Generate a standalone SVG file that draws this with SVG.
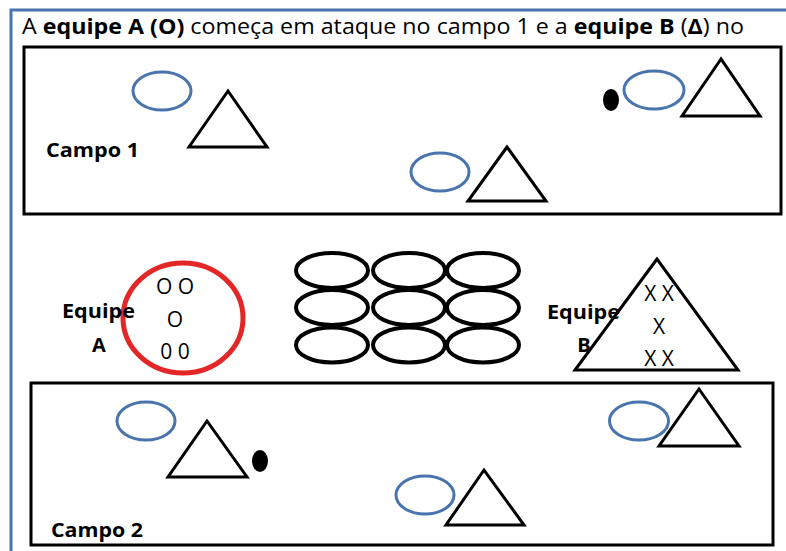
<svg xmlns="http://www.w3.org/2000/svg" width="786" height="551" viewBox="0 0 786 551">
<style>
.frame{fill:none;stroke:#4a74ad;stroke-width:3}
.field{fill:none;stroke:#000;stroke-width:3}
.pl{fill:none;stroke:#4a74ad;stroke-width:3}
.tri{fill:none;stroke:#000;stroke-width:3;stroke-linejoin:miter}
.ball{fill:#000}
.cone{fill:none;stroke:#000;stroke-width:4}
.t{font-family:"Open Sans","Liberation Sans",sans-serif;fill:#000}
.b{font-weight:bold}
</style>
<rect width="786" height="551" fill="#fff"/>
<path class="frame" d="M11,551 V10 H786"/>
<text class="t" x="22" y="34" font-size="22" textLength="722" lengthAdjust="spacingAndGlyphs">A <tspan class="b">equipe A (O)</tspan> começa em ataque no campo 1 e a <tspan class="b">equipe B</tspan> (<tspan class="b">Δ</tspan>) no</text>

<g id="campo1">
<rect class="field" x="24" y="47" width="757" height="167"/>
<text class="t b" x="46" y="157" font-size="20" textLength="93" lengthAdjust="spacingAndGlyphs">Campo 1</text>
<ellipse class="pl" cx="162" cy="91" rx="29" ry="19"/>
<polygon class="tri" points="228,91 189,147 267,147"/>
<ellipse class="ball" cx="611" cy="100" rx="8" ry="11"/>
<ellipse class="pl" cx="654" cy="90" rx="30" ry="19"/>
<polygon class="tri" points="721,59 682,116 760,116"/>
<ellipse class="pl" cx="440" cy="172" rx="29" ry="19"/>
<polygon class="tri" points="507,147 468,201 546,201"/>
</g>

<g id="equipeA">
<ellipse cx="183" cy="318" rx="60" ry="55" fill="none" stroke="#e32626" stroke-width="5"/>
<text class="t b" x="62" y="318" font-size="20" textLength="73" lengthAdjust="spacingAndGlyphs">Equipe</text>
<text class="t b" x="99" y="352" font-size="20" text-anchor="middle">A</text>
<text class="t" x="175" y="294" font-size="21" text-anchor="middle">O O</text>
<text class="t" x="175" y="327" font-size="21" text-anchor="middle">O</text>
<text class="t" x="175" y="359" font-size="21" text-anchor="middle">0 0</text>
</g>

<g id="cones">
<ellipse class="cone" cx="332" cy="270.5" rx="36" ry="17.5"/>
<ellipse class="cone" cx="409" cy="270.5" rx="36" ry="17.5"/>
<ellipse class="cone" cx="483" cy="270.5" rx="36" ry="17.5"/>
<ellipse class="cone" cx="332" cy="307.5" rx="36" ry="17.5"/>
<ellipse class="cone" cx="409" cy="307.5" rx="36" ry="17.5"/>
<ellipse class="cone" cx="483" cy="307.5" rx="36" ry="17.5"/>
<ellipse class="cone" cx="332" cy="345" rx="36" ry="17.5"/>
<ellipse class="cone" cx="409" cy="345" rx="36" ry="17.5"/>
<ellipse class="cone" cx="483" cy="345" rx="36" ry="17.5"/>
</g>

<g id="equipeB">
<text class="t b" x="547" y="319" font-size="20" textLength="73" lengthAdjust="spacingAndGlyphs">Equipe</text>
<text class="t b" x="584" y="352" font-size="20" text-anchor="middle">B</text>
<polygon class="tri" points="657,259 575,370 738,370"/>
<text class="t" x="659" y="301" font-size="21" text-anchor="middle">X X</text>
<text class="t" x="659" y="334" font-size="21" text-anchor="middle">X</text>
<text class="t" x="659" y="366" font-size="21" text-anchor="middle">X X</text>
</g>

<g id="campo2">
<rect class="field" x="31" y="383" width="742" height="162"/>
<text class="t b" x="51" y="537" font-size="20" textLength="92" lengthAdjust="spacingAndGlyphs">Campo 2</text>
<ellipse class="pl" cx="146" cy="421" rx="29" ry="19"/>
<polygon class="tri" points="207,421 168,477 247,477"/>
<ellipse class="ball" cx="260" cy="461" rx="8" ry="11"/>
<ellipse class="pl" cx="639" cy="421" rx="29.5" ry="19"/>
<polygon class="tri" points="699,389 659,446 739,446"/>
<ellipse class="pl" cx="425" cy="495" rx="29" ry="19"/>
<polygon class="tri" points="484,470 446,525 524,525"/>
</g>

<g id="connectors"/>
</svg>
